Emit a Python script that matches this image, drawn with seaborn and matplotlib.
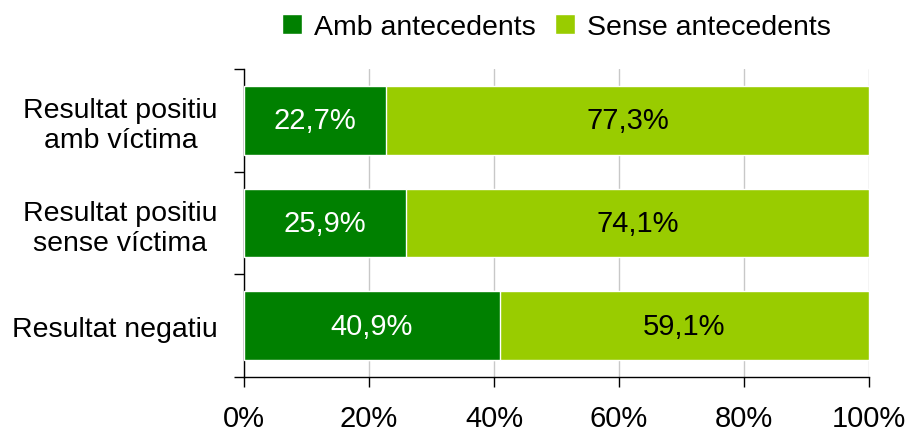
import pandas as pd
import matplotlib.pyplot as plt
import seaborn as sns
from matplotlib.patches import Patch

categories = ['Resultat positiu\namb víctima', 'Resultat positiu\nsense víctima', 'Resultat negatiu']
amb = [22.7, 25.9, 40.9]
sense = [77.3, 74.1, 59.1]
series_names = ['Amb antecedents', 'Sense antecedents']
colors = ['#008000', '#99CC00']
xticks = [0, 20, 40, 60, 80, 100]

df = pd.DataFrame({'cat': categories, 'amb': amb, 'sense': sense})
df['total'] = df['amb'] + df['sense']

sns.set_style('white', {'text.color': 'black', 'xtick.color': 'black',
                        'ytick.color': 'black', 'axes.labelcolor': 'black'})
plt.rcParams['font.family'] = ['Liberation Sans', 'DejaVu Sans']

fig = plt.figure(figsize=(9.09, 4.35), dpi=100)
ax = fig.add_axes([0.2684, 0.131, 0.956 - 0.2684, 0.839 - 0.131])

sns.barplot(data=df, x='total', y='cat', orient='h', color=colors[1], width=0.67,
            saturation=1, ax=ax, zorder=2)
sns.barplot(data=df, x='amb', y='cat', orient='h', color=colors[0], width=0.67,
            saturation=1, ax=ax, zorder=3)

# value labels
for i, (a, s) in enumerate(zip(df['amb'], df['sense'])):
    ax.text(a / 2, i, f'{a:.1f}%'.replace('.', ','), ha='center', va='center',
            color='white', fontsize=21, zorder=4)
    ax.text(a + s / 2, i, f'{s:.1f}%'.replace('.', ','), ha='center', va='center',
            color='black', fontsize=21, zorder=4)

ax.set_xlim(0, 100)
ax.set_ylim(2.5, -0.5)
ax.set_xticks(xticks)
ax.set_xticklabels([f'{t}%' for t in xticks], fontsize=21)
ax.xaxis.grid(True, color='#c8c8c8', linewidth=1, zorder=0)
ax.set_axisbelow(True)
ax.tick_params(axis='x', direction='out', length=7, width=1, color='black', pad=12.5,
               bottom=True, labelcolor='black')

ax.set_yticks([0, 1, 2])
ax.set_yticklabels(categories, fontsize=20.5, multialignment='center')
ax.set_yticks([-0.5, 0.5, 1.5, 2.5], minor=True)
ax.tick_params(axis='y', which='major', length=0, pad=19, labelcolor='black')
ax.tick_params(axis='y', which='minor', direction='out', length=7, width=1,
               color='black', left=True)
ax.set_xlabel('')
ax.set_ylabel('')

for side in ['top', 'right']:
    ax.spines[side].set_visible(False)
for side in ['left', 'bottom']:
    ax.spines[side].set_color('black')
    ax.spines[side].set_linewidth(1)

handles = [Patch(facecolor=c, label=n) for c, n in zip(colors, series_names)]
fig.legend(handles=handles, loc='center', bbox_to_anchor=(0.612, 0.935), ncol=2,
           frameon=False, fontsize=20.5, handlelength=0.7, handleheight=0.7,
           handletextpad=0.4, columnspacing=0.7)

plt.savefig('out.png', dpi=100)
plt.close()
